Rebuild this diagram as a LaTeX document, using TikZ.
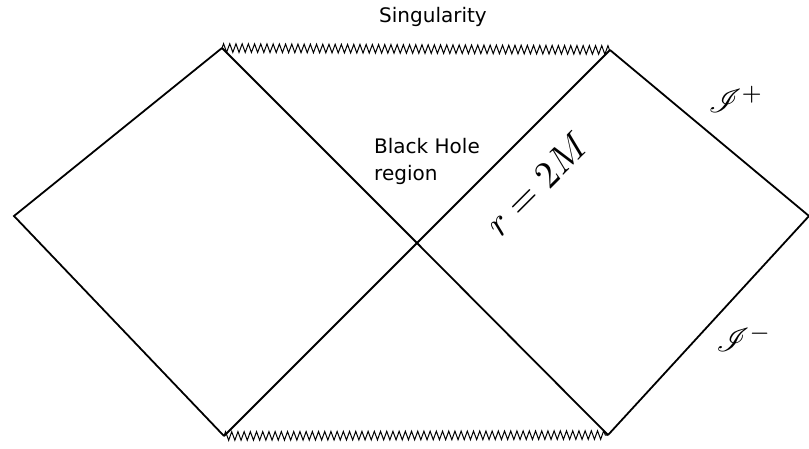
\documentclass[tikz,border=0pt]{standalone}
\usepackage{amsmath, amssymb}
\usepackage{mathrsfs}
\usepackage{graphicx}
\usepackage{fontspec}
\setmainfont{DejaVu Sans}
\usetikzlibrary{decorations.pathmorphing}

\begin{document}
\begin{tikzpicture}[
    x=1pt, y=-1pt,
    edge/.style={line width=1.8pt, line join=miter},
    sing/.style={line width=1pt, decorate,
                 decoration={zigzag, segment length=6.2pt, amplitude=4.3pt}},
    label/.style={font=\fontsize{20}{27}\selectfont, inner sep=0pt},
  ]
  \useasboundingbox (0,0) rectangle (809,448);

  % corners of the diagram
  \coordinate (west)   at (14,216);
  \coordinate (east)   at (809,216);
  \coordinate (topL)   at (222,48);
  \coordinate (topR)   at (610,50);
  \coordinate (botL)   at (224,436);
  \coordinate (botR)   at (608,435);
  \coordinate (centre) at (417,243);

  % singularities
  \draw[sing] (topL) -- (topR);
  \draw[sing] (botL) -- (botR);

  % left and right regions
  \draw[edge] (topL) -- (west) -- (botL);
  \draw[edge] (topR) -- (east) -- (botR);
  % horizons
  \draw[edge] (topL) -- (centre) -- (botR);
  \draw[edge] (botL) -- (centre) -- (topR);

  % labels
  \node[label, anchor=base] (singlabel) at (433,22) {Singularity};
  \node[label, anchor=north west, align=left] (bhlabel) at (374,138)
    {Black Hole\\region};
  \node[rotate=45, inner sep=0pt] (horizon) at (537,184)
    {\scalebox{3.8}{$r=2M$}};
  \node[inner sep=0pt] (scriplus) at (736,99)
    {\scalebox{3.3}{$\mathscr{I}^+$}};
  \node[inner sep=0pt] (scriminus) at (744,338)
    {\scalebox{3.3}{$\mathscr{I}^-$}};
\end{tikzpicture}
\end{document}
